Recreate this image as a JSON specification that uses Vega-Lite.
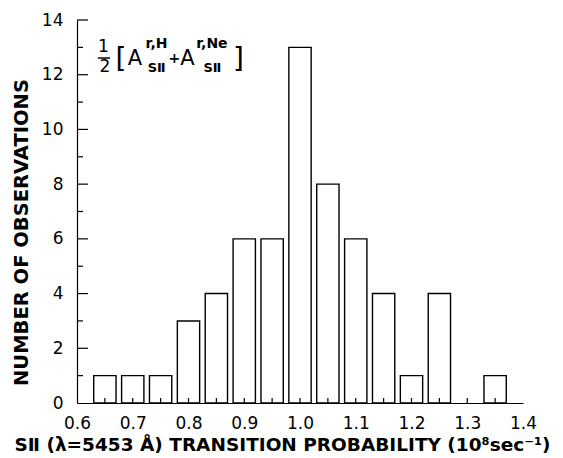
{
  "$schema": "https://vega.github.io/schema/vega-lite/v6.json",
  "width": 446,
  "height": 383,
  "autosize": "none",
  "padding": {"left": 77, "top": 20, "right": 40, "bottom": 55},
  "background": "white",
  "config": {
    "view": {"stroke": null},
    "font": "DejaVu Sans",
    "axis": {"domainColor": "black", "labelColor": "black", "titleColor": "black", "grid": false, "ticks": false, "labelFont": "DejaVu Sans", "titleFont": "DejaVu Sans", "titleFontWeight": "bold", "domainWidth": 1.2}
  },
  "layer": [
    {
      "data": {"values": [
        {"lo": 0.63, "hi": 0.67, "count": 1},
        {"lo": 0.68, "hi": 0.72, "count": 1},
        {"lo": 0.73, "hi": 0.77, "count": 1},
        {"lo": 0.78, "hi": 0.82, "count": 3},
        {"lo": 0.83, "hi": 0.87, "count": 4},
        {"lo": 0.88, "hi": 0.92, "count": 6},
        {"lo": 0.93, "hi": 0.97, "count": 6},
        {"lo": 0.98, "hi": 1.02, "count": 13},
        {"lo": 1.03, "hi": 1.07, "count": 8},
        {"lo": 1.08, "hi": 1.12, "count": 6},
        {"lo": 1.13, "hi": 1.17, "count": 4},
        {"lo": 1.18, "hi": 1.22, "count": 1},
        {"lo": 1.23, "hi": 1.27, "count": 4},
        {"lo": 1.33, "hi": 1.37, "count": 1}
      ]},
      "mark": {"type": "bar", "fill": "white", "stroke": "black", "strokeWidth": 1.4},
      "encoding": {
        "x": {"field": "lo", "type": "quantitative", "scale": {"domain": [0.6, 1.4], "nice": false, "zero": false},
          "axis": {"values": [0.6, 0.7, 0.8, 0.9, 1.0, 1.1, 1.2, 1.3, 1.4], "format": ".1f", "labelPadding": 12, "labelFontSize": 17, "labelFlush": false,
            "title": "SⅡ (λ=5453 Å)  TRANSITION  PROBABILITY (10⁸sec⁻¹)", "titleFontSize": 18.5, "titleX": 205, "titleY": 47, "titleAnchor": "middle", "titleBaseline": "alphabetic"}},
        "x2": {"field": "hi"},
        "y": {"field": "count", "type": "quantitative", "scale": {"domain": [0, 14], "nice": false},
          "axis": {"values": [0, 2, 4, 6, 8, 10, 12, 14], "labelPadding": 14, "labelFontSize": 17, "labelFlush": false,
            "title": "NUMBER  OF  OBSERVATIONS", "titleFontSize": 19.5, "titleX": -56, "titleY": 212, "titleAnchor": "middle", "titleBaseline": "middle"}},
        "y2": {"datum": 0}
      }
    },
    {
      "data": {"values": [
        {"v": 1}, {"v": 3}, {"v": 5}, {"v": 7}, {"v": 9}, {"v": 11}, {"v": 13}
      ]},
      "mark": {"type": "rule", "color": "black", "strokeWidth": 1.2},
      "encoding": {"y": {"field": "v", "type": "quantitative"}, "x": {"datum": 0.6}, "x2": {"datum": 0.6108}}
    },
    {
      "data": {"values": [
        {"v": 2}, {"v": 4}, {"v": 6}, {"v": 8}, {"v": 10}, {"v": 12}, {"v": 14}
      ]},
      "mark": {"type": "rule", "color": "black", "strokeWidth": 1.2},
      "encoding": {"y": {"field": "v", "type": "quantitative"}, "x": {"datum": 0.6}, "x2": {"datum": 0.6197}}
    },
    {
      "data": {"values": [
        {"v": 0.65}, {"v": 0.7}, {"v": 0.75}, {"v": 0.8}, {"v": 0.85}, {"v": 0.9}, {"v": 0.95}, {"v": 1.0}, {"v": 1.05}, {"v": 1.1}, {"v": 1.15}, {"v": 1.2}, {"v": 1.25}, {"v": 1.3}, {"v": 1.35}
      ]},
      "mark": {"type": "rule", "color": "black", "strokeWidth": 1.2},
      "encoding": {"x": {"field": "v", "type": "quantitative"}, "y": {"datum": 0}, "y2": {"datum": 0.18}}
    },
    {
      "data": {"values": [
        {"t": "1", "x": 0.6475, "y": 13.01},
        {"t": "2", "x": 0.6502, "y": 12.28}
      ]},
      "mark": {"type": "text", "fontSize": 17, "baseline": "middle", "align": "center", "color": "black"},
      "encoding": {"x": {"field": "x", "type": "quantitative"}, "y": {"field": "y", "type": "quantitative"}, "text": {"field": "t"}}
    },
    {
      "data": {"values": [
        {"t": "A", "x": 0.7040, "y": 12.59},
        {"t": "A", "x": 0.7980, "y": 12.59}
      ]},
      "mark": {"type": "text", "fontSize": 21, "baseline": "middle", "align": "center", "color": "black"},
      "encoding": {"x": {"field": "x", "type": "quantitative"}, "y": {"field": "y", "type": "quantitative"}, "text": {"field": "t"}}
    },
    {
      "data": {"values": [
        {"t": "+", "x": 0.7745, "y": 12.57}
      ]},
      "mark": {"type": "text", "fontSize": 14, "fontWeight": "bold", "baseline": "middle", "align": "center", "color": "black"},
      "encoding": {"x": {"field": "x", "type": "quantitative"}, "y": {"field": "y", "type": "quantitative"}, "text": {"field": "t"}}
    },
    {
      "data": {"values": [
        {"t": "[", "x": 0.6789, "y": 12.54},
        {"t": "]", "x": 0.8897, "y": 12.54}
      ]},
      "mark": {"type": "text", "fontSize": 28, "baseline": "middle", "align": "center", "color": "black"},
      "encoding": {"x": {"field": "x", "type": "quantitative"}, "y": {"field": "y", "type": "quantitative"}, "text": {"field": "t"}}
    },
    {
      "data": {"values": [
        {"t": "r,H", "x": 0.7426, "y": 13.12},
        {"t": "r,Ne", "x": 0.8420, "y": 13.12}
      ]},
      "mark": {"type": "text", "fontSize": 14, "fontWeight": "bold", "baseline": "middle", "align": "center", "color": "black"},
      "encoding": {"x": {"field": "x", "type": "quantitative"}, "y": {"field": "y", "type": "quantitative"}, "text": {"field": "t"}}
    },
    {
      "data": {"values": [
        {"t": "SⅡ", "x": 0.7430, "y": 12.25},
        {"t": "SⅡ", "x": 0.8430, "y": 12.25}
      ]},
      "mark": {"type": "text", "fontSize": 13, "fontWeight": "bold", "baseline": "middle", "align": "center", "color": "black"},
      "encoding": {"x": {"field": "x", "type": "quantitative"}, "y": {"field": "y", "type": "quantitative"}, "text": {"field": "t"}}
    },
    {
      "data": {"values": [{"x": 0.6377, "x2": 0.6592, "y": 12.61}]},
      "mark": {"type": "rule", "color": "black", "strokeWidth": 1.5},
      "encoding": {"x": {"field": "x", "type": "quantitative"}, "x2": {"field": "x2"}, "y": {"field": "y", "type": "quantitative"}}
    }
  ]
}
